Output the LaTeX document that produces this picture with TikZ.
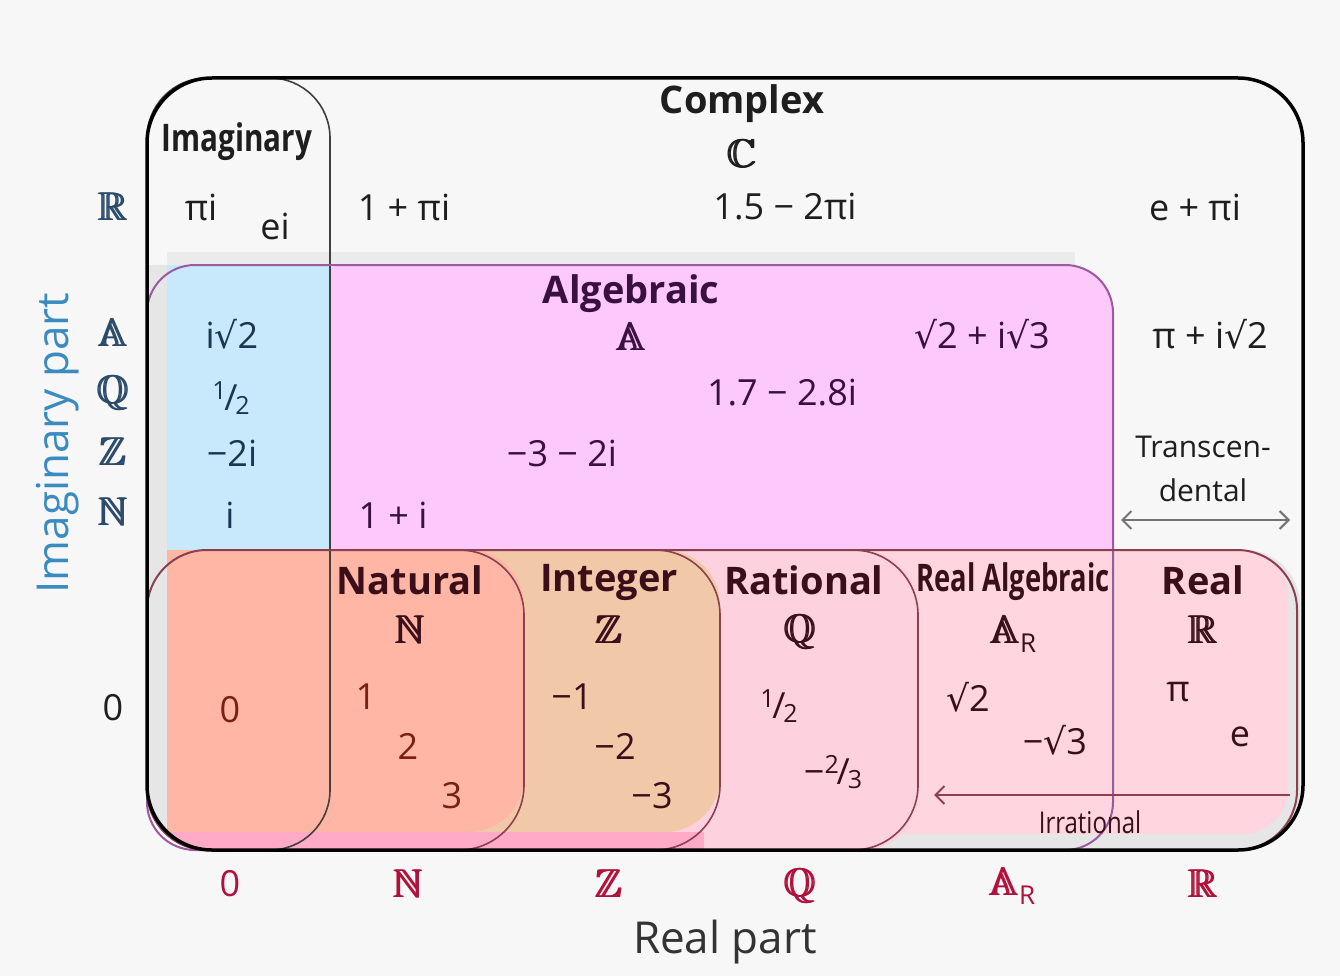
\documentclass[tikz,border=0pt]{standalone}
\usepackage{fontspec}
\usepackage{amssymb}
\setmainfont{Open Sans}
\newfontfamily\dv{DejaVu Sans}
\usetikzlibrary{arrows.meta}
\definecolor{bgc}{HTML}{F7F7F7}
\definecolor{gstrip}{HTML}{E6E6E6}
\definecolor{bluef}{HTML}{C8E8FB}
\definecolor{magf}{HTML}{FDC9FD}
\definecolor{salf}{HTML}{FFB6A4}
\definecolor{tanf}{HTML}{F2C9A8}
\definecolor{ratf}{HTML}{FDD2DE}
\definecolor{realf}{HTML}{FFD5E0}
\definecolor{stripf}{HTML}{FFABC7}
\definecolor{purl}{HTML}{9B5A9E}
\definecolor{marl}{HTML}{8A4050}
\definecolor{tblue}{HTML}{1B3653}
\definecolor{tmag}{HTML}{3A1040}
\definecolor{treal}{HTML}{3A0F1A}
\definecolor{tnat}{HTML}{7A2010}
\definecolor{axl}{HTML}{2B4B6B}
\definecolor{axblue}{HTML}{3A8CC0}
\definecolor{crim}{HTML}{B0103A}
\definecolor{tdark}{HTML}{1E1E1E}
\newcommand{\bb}[1]{{\usefont{U}{msb}{m}{n}\rlap{#1}\kern0.7pt\rlap{#1}\kern0.7pt#1}}
\newcommand{\fr}[2]{\raisebox{0.3em}{\fontsize{25}{25}\selectfont #1}\kern-0.06em/\kern-0.06em\raisebox{-0.1em}{\fontsize{25}{25}\selectfont #2}}
\newcommand{\rt}{{\dv √}}
\newcommand{\mn}{−}
\begin{document}
\begin{tikzpicture}[x=1pt,y=-1pt,
  every node/.style={inner sep=0pt, outer sep=0pt},
  ttl/.style={font=\bfseries\fontsize{38}{40}\selectfont, text=tdark},
  num/.style={font=\fontsize{36}{38}\selectfont, text=tdark},
  bbs/.style={font=\fontsize{40}{42}\selectfont, text=tdark},
  small/.style={font=\fontsize{30}{32}\selectfont, text=tdark},
  axis/.style={font=\fontsize{44}{46}\selectfont},
  outline/.style={line width=1.6},
  barb/.tip={Straight Barb[length=9pt,width=18pt,line width=2pt]},
]
\useasboundingbox (0,0) rectangle (1340,976);
\fill[bgc] (0,0) rectangle (1340,976);
% ---------------- fills ----------------
\begin{scope}
\clip[rounded corners=65] (147,78) rectangle (1303,850);
\fill[gstrip] (147,265) rectangle (167,850);
\fill[gstrip!70!bgc] (167,252) rectangle (1075,265);
\fill[magf, rounded corners=45] (300,265) rectangle (1113,600);
\fill[bluef] (167,265) rectangle (330,550);
\fill[gstrip, rounded corners=55] (800,550) rectangle (1300,850);
\fill[realf, rounded corners=45] (800,550) rectangle (1288,834);
\fill[ratf, rounded corners=55] (100,550) rectangle (918,850);
\fill[tanf, rounded corners=55] (100,550) rectangle (720,832);
\fill[salf, rounded corners=55] (100,550) rectangle (524,832);
\fill[stripf] (167,832) rectangle (704,850);
\fill[gstrip] (147,550) rectangle (167,850);
\end{scope}
% ---------------- outlines ----------------
\draw[black!75, outline, rounded corners=60] (147,78) rectangle (330,850);
\draw[purl, line width=2, rounded corners=48] (147,265) rectangle (1113,850);
\draw[marl, line width=2, rounded corners=60] (147,550) rectangle (1297,850);
\draw[marl, outline, rounded corners=65] (300,550) -- (524,550) -- (524,850) -- (300,850);
\draw[marl, outline, rounded corners=65] (500,550) -- (720,550) -- (720,850) -- (500,850);
\draw[marl, outline, rounded corners=65] (700,550) -- (918,550) -- (918,850) -- (700,850);
\draw[black, line width=3.5, rounded corners=65] (147,78) rectangle (1303,850);
% ---------------- arrows ----------------
\coordinate (irrR) at (1290,795);
\coordinate (irrL) at (934,795);
\draw[marl, line width=2, -barb] (irrR) -- (irrL);
\coordinate (trL) at (1121,520);
\coordinate (trR) at (1290,520);
\draw[black!55, line width=2, barb-barb] (trL) -- (trR);
% ---------------- axes ----------------
\node[bbs, text=axl] (axR) at (113,207) {\bb{R}};
\node[bbs, text=axl] (axA) at (113,333) {\bb{A}};
\node[bbs, text=axl] (axQ) at (113,393) {\bb{Q}};
\node[bbs, text=axl] (axZ) at (113,452) {\bb{Z}};
\node[bbs, text=axl] (axN) at (113,512) {\bb{N}};
\node[num] (ax0) at (113,708) {0};
\node[axis, text=axblue, rotate=90] (imagpart) at (58,443) {Imaginary part};
\node[num, text=crim] (bx0) at (230,884) {0};
\node[bbs, text=crim] (bxN) at (408,884) {\bb{N}};
\node[bbs, text=crim] (bxZ) at (609,884) {\bb{Z}};
\node[bbs, text=crim] (bxQ) at (800,886) {\bb{Q}};
\node[bbs, text=crim] (bxA) at (1012,886) {\bb{A}\raisebox{-0.22em}{\fontsize{26}{26}\selectfont R}};
\node[bbs, text=crim] (bxR) at (1203,884) {\bb{R}};
\node[axis, text=black!80] (realpart) at (725,942) {Real part};
% ---------------- titles ----------------
\node[ttl] (tC) at (742,104) {Complex};
\node[bbs] (sC) at (742,154) {\bb{C}};
\node[ttl, xscale=0.78] (tI) at (237,142) {Imaginary};
\node[ttl, text=tmag] (tA) at (631,294) {Algebraic};
\node[bbs, text=tmag] (sA) at (631,337) {\bb{A}};
\node[ttl, text=treal] (tN) at (410,580) {Natural};
\node[bbs, text=treal] (sN) at (410,630) {\bb{N}};
\node[ttl, text=treal] (tZ) at (609,582) {Integer};
\node[bbs, text=treal] (sZ) at (609,630) {\bb{Z}};
\node[ttl, text=treal] (tQ) at (804,580) {Rational};
\node[bbs, text=treal] (sQ) at (800,632) {\bb{Q}};
\node[ttl, text=treal, xscale=0.72] (tAR) at (1013,582) {Real Algebraic};
\node[bbs, text=treal] (sAR) at (1013,634) {\bb{A}\raisebox{-0.22em}{\fontsize{26}{26}\selectfont R}};
\node[ttl, text=treal] (tR) at (1203,580) {Real};
\node[bbs, text=treal] (sR) at (1203,630) {\bb{R}};
% ---------------- numbers ----------------
\node[num] (n1) at (201,207) {πi};
\node[num] (n2) at (275,226) {ei};
\node[num] (n3) at (404,207) {1 + πi};
\node[num] (n4) at (785,207) {1.5 \mn\ 2πi};
\node[num] (n5) at (1195,207) {e + πi};
\node[num, text=tblue] (n6) at (232,334) {i\rt 2};
\node[num, text=tmag] (n7) at (982,334) {\rt 2 + i\rt 3};
\node[num] (n8) at (1210,334) {π + i\rt 2};
\node[num, text=tblue] (n9) at (231,398) {\fr{1}{2}};
\node[num, text=tmag] (n10) at (782,393) {1.7 \mn\ 2.8i};
\node[num, text=tblue] (n11) at (232,453) {\mn 2i};
\node[num, text=tmag] (n12) at (562,453) {\mn 3 \mn\ 2i};
\node[num, text=tblue] (n13) at (230,515) {i};
\node[num, text=tmag] (n14) at (393,515) {1 + i};
\node[small] (tr1) at (1203,447) {Transcen-};
\node[small] (tr2) at (1203,490) {dental};
\node[num, text=tnat] (n15) at (230,710) {0};
\node[num, text=tnat] (n16) at (366,697) {1};
\node[num, text=tnat] (n17) at (408,746) {2};
\node[num, text=tnat] (n18) at (452,796) {3};
\node[num, text=treal] (n19) at (572,697) {\mn 1};
\node[num, text=treal] (n20) at (615,746) {\mn 2};
\node[num, text=treal] (n21) at (652,796) {\mn 3};
\node[num, text=treal] (n22) at (779,706) {\fr{1}{2}};
\node[num, text=treal] (n23) at (833,772) {\mn\fr{2}{3}};
\node[num, text=treal] (n24) at (968,697) {\rt 2};
\node[num, text=treal] (n25) at (1055,740) {\mn\rt 3};
\node[num, text=treal] (n26) at (1178,692) {π};
\node[num, text=treal] (n27) at (1240,737) {e};
\node[small, text=treal, xscale=0.8] (irr) at (1090,822) {Irrational};
\end{tikzpicture}
\end{document}
